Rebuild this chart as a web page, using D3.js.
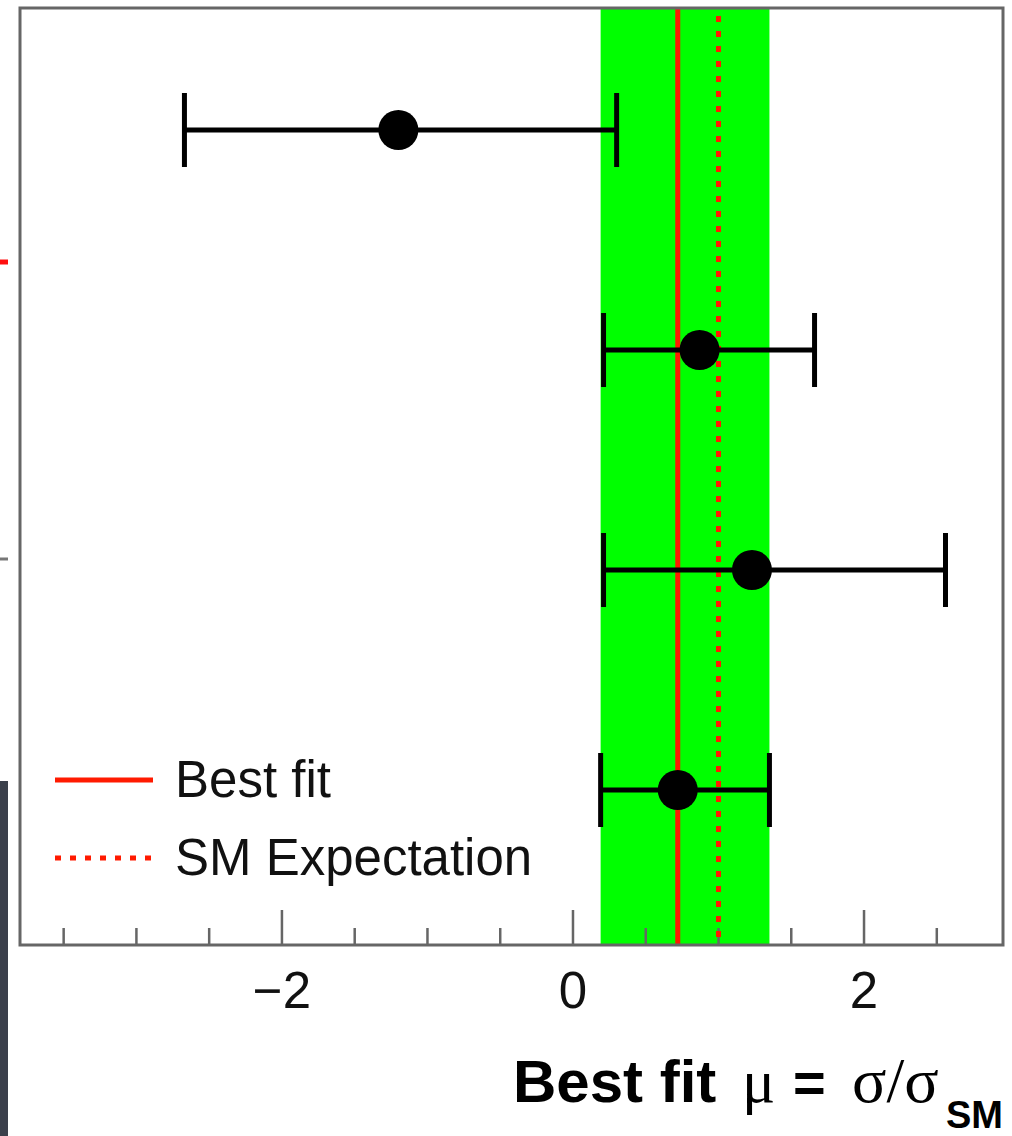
<!DOCTYPE html>
<html>
<head>
<meta charset="utf-8">
<script src="https://cdn.jsdelivr.net/npm/d3@7"></script>
<style>
  html, body { margin: 0; padding: 0; background: #fff; }
  svg { display: block; }
</style>
</head>
<body>
<svg id="chart"></svg>
<script>
// data
const rows = ["c1", "c2", "c3", "c4"];
const mu = [-1.2, 0.87, 1.23, 0.72];
const errLo = [-2.67, 0.21, 0.21, 0.19];
const errHi = [0.30, 1.66, 2.56, 1.35];
const bestFit = 0.72;
const band = [0.19, 1.35];
const smValue = 1.0;
const xTicks = [-2, 0, 2];
const legendItems = ["Best fit", "SM Expectation"];

const W = 1012, H = 1136;
const frame = { left: 20, top: 8, right: 1003, bottom: 945 };

const svg = d3.select("#chart").attr("width", W).attr("height", H);

const x = d3.scaleLinear().domain([-3.8, 2.955]).range([frame.left, frame.right]);
const y = d3.scalePoint().domain(rows).range([130, 790]);

// dark strip at bottom left (part of page behind)
svg.append("rect")
  .attr("x", 0).attr("y", 781).attr("width", 8).attr("height", H - 781)
  .attr("fill", "#3b404b");

// little stubs from a neighbouring panel
svg.append("line").attr("x1", 0).attr("x2", 8).attr("y1", 262).attr("y2", 262)
  .attr("stroke", "#ff1010").attr("stroke-width", 5);
svg.append("line").attr("x1", 0).attr("x2", 8).attr("y1", 559).attr("y2", 559)
  .attr("stroke", "#777").attr("stroke-width", 3);

const g = svg.append("g");

// green band
g.append("rect")
  .attr("x", x(band[0])).attr("y", frame.top)
  .attr("width", x(band[1]) - x(band[0]))
  .attr("height", frame.bottom - frame.top)
  .attr("fill", "#00ff00");

// x axis minor / major ticks (drawn upward from the bottom line)
const minor = d3.range(-3.5, 3.0, 0.5);
g.selectAll(".tick-mark")
  .data(minor)
  .join("line")
  .attr("class", "tick-mark")
  .attr("x1", (d) => x(d)).attr("x2", (d) => x(d))
  .attr("y1", frame.bottom)
  .attr("y2", (d) => frame.bottom - (Number.isInteger(d) && d % 2 === 0 ? 35 : 17))
  .attr("stroke", "#666")
  .attr("stroke-width", 2.5);

// best fit line
g.append("line")
  .attr("x1", x(bestFit)).attr("x2", x(bestFit))
  .attr("y1", frame.top).attr("y2", frame.bottom)
  .attr("stroke", "#ff1a00").attr("stroke-width", 5);

// SM expectation dotted
g.append("line")
  .attr("x1", x(smValue)).attr("x2", x(smValue))
  .attr("y1", frame.top + 8).attr("y2", frame.bottom)
  .attr("stroke", "#ff1a00").attr("stroke-width", 5)
  .attr("stroke-dasharray", "6 9");

// error bars
const pts = rows.map((r, i) => ({ r, v: mu[i], lo: errLo[i], hi: errHi[i] }));
const bars = g.selectAll(".bar").data(pts).join("g").attr("class", "bar");

bars.append("line")
  .attr("x1", (d) => x(d.lo)).attr("x2", (d) => x(d.hi))
  .attr("y1", (d) => y(d.r)).attr("y2", (d) => y(d.r))
  .attr("stroke", "#000").attr("stroke-width", 5);

["lo", "hi"].forEach((k) => {
  bars.append("line")
    .attr("x1", (d) => x(d[k])).attr("x2", (d) => x(d[k]))
    .attr("y1", (d) => y(d.r) - 37).attr("y2", (d) => y(d.r) + 37)
    .attr("stroke", "#000").attr("stroke-width", 5);
});

bars.append("circle")
  .attr("cx", (d) => x(d.v)).attr("cy", (d) => y(d.r))
  .attr("r", 20).attr("fill", "#000");

// frame
g.append("rect")
  .attr("x", frame.left).attr("y", frame.top)
  .attr("width", frame.right - frame.left)
  .attr("height", frame.bottom - frame.top)
  .attr("fill", "none")
  .attr("stroke", "#666")
  .attr("stroke-width", 3);

// tick labels
g.selectAll(".xlab")
  .data(xTicks)
  .join("text")
  .attr("class", "xlab")
  .attr("x", (d) => x(d))
  .attr("y", 1008)
  .attr("text-anchor", "middle")
  .style("font-family", "'Liberation Sans', Arial, sans-serif")
  .style("font-size", "51px")
  .attr("fill", "#111")
  .text((d) => (d < 0 ? "\u2212" + Math.abs(d) : d));

// legend
const leg = g.append("g");
legendItems.forEach((t, i) => {
  const ly = 780 + i * 78;
  leg.append("line")
    .attr("x1", 55).attr("x2", 153).attr("y1", ly).attr("y2", ly)
    .attr("stroke", "#ff1a00").attr("stroke-width", 5)
    .attr("stroke-dasharray", i === 1 ? "6 9" : null);
  leg.append("text")
    .attr("x", 175).attr("y", ly + 17)
    .style("font-family", "'Liberation Sans', Arial, sans-serif")
    .style("font-size", "51px")
    .attr("fill", "#111")
    .text(t);
});

// axis title
const sans = "'Liberation Sans', Arial, sans-serif";
const serif = "'Liberation Serif', 'Times New Roman', serif";
const title = svg.append("text").attr("y", 1102).attr("fill", "#000");
const parts = [
  { t: "Best fit", x: 513, f: sans, w: "bold", s: 60 },
  { t: "\u03bc", x: 742, f: serif, w: "normal", s: 62 },
  { t: "=", x: 793, f: sans, w: "bold", s: 56 },
  { t: "\u03c3/\u03c3", x: 852, f: serif, w: "normal", s: 64 },
];
parts.forEach((p) => {
  title.append("tspan")
    .attr("x", p.x)
    .style("font-family", p.f)
    .style("font-weight", p.w)
    .style("font-size", p.s + "px")
    .text(p.t);
});
svg.append("text")
  .attr("x", 1003).attr("y", 1128)
  .attr("text-anchor", "end")
  .style("font-family", sans)
  .style("font-weight", "bold")
  .style("font-size", "38px")
  .text("SM");
</script>
</body>
</html>
